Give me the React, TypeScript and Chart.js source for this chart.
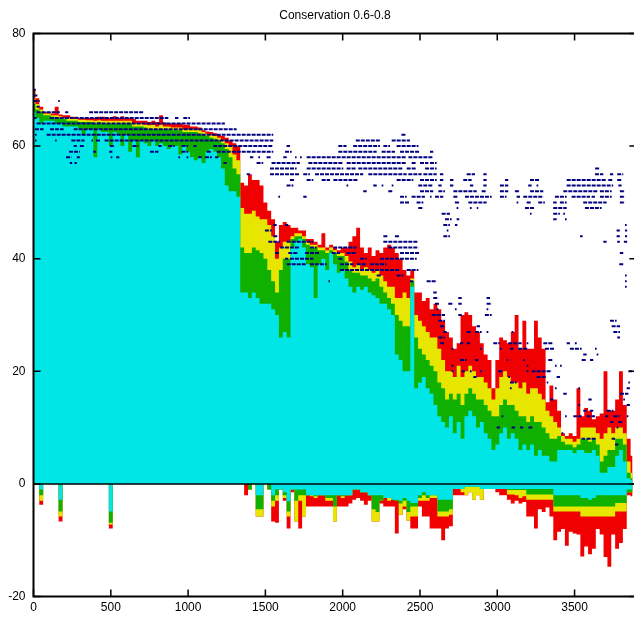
import { useEffect, useRef } from "react";
import { Chart, registerables } from "chart.js";
Chart.register(...registerables);

const TITLE = "Conservation 0.6-0.8";
const FONT = "'Liberation Sans', Arial, sans-serif";

const xTickValues = [0, 500, 1000, 1500, 2000, 2500, 3000, 3500];
const yTickValues = [-20, 0, 20, 40, 60, 80];

const xs = [
  0, 25, 50, 75, 100, 125, 150, 175, 200, 225,
  250, 275, 300, 325, 350, 375, 400, 425, 450, 475,
  500, 525, 550, 575, 600, 625, 650, 675, 700, 725,
  750, 775, 800, 825, 850, 875, 900, 925, 950, 975,
  1000, 1025, 1050, 1075, 1100, 1125, 1150, 1175, 1200, 1225,
  1250, 1275, 1300, 1325, 1350, 1375, 1400, 1425, 1450, 1475,
  1500, 1525, 1550, 1575, 1600, 1625, 1650, 1675, 1700, 1725,
  1750, 1775, 1800, 1825, 1850, 1875, 1900, 1925, 1950, 1975,
  2000, 2025, 2050, 2075, 2100, 2125, 2150, 2175, 2200, 2225,
  2250, 2275, 2300, 2325, 2350, 2375, 2400, 2425, 2450, 2475,
  2500, 2525, 2550, 2575, 2600, 2625, 2650, 2675, 2700, 2725,
  2750, 2775, 2800, 2825, 2850, 2875, 2900, 2925, 2950, 2975,
  3000, 3025, 3050, 3075, 3100, 3125, 3150, 3175, 3200, 3225,
  3250, 3275, 3300, 3325, 3350, 3375, 3400, 3425, 3450, 3475,
  3500, 3525, 3550, 3575, 3600, 3625, 3650, 3675, 3700, 3725,
  3750, 3775, 3800, 3825, 3850, 3875,
];

// upper edge of each band (positive side)
const cyanTop = [
  66, 65, 64, 64.5, 64.5, 64.5, 64, 64, 63.5, 63.5,
  63.5, 63.5, 63, 62, 63, 63, 58, 63, 62.5, 62.5,
  60, 62.5, 62, 60, 62, 59, 61, 58, 61, 60.5,
  60, 61, 60, 60.5, 60, 59.5, 60, 60, 58.5, 60,
  59, 58, 57.5, 58, 57, 59, 59.5, 59, 58, 56,
  53, 52, 52, 51, 34, 34, 33, 34, 33, 32,
  32, 32, 31, 30, 26, 27, 26, 42, 43, 43.5,
  42, 39, 38.5, 33, 39, 40, 38, 41, 39, 37.5,
  38, 36.5, 35, 34, 35, 34.5, 35, 34, 33.5, 33,
  32, 32, 31, 30, 23, 22, 20, 20, 35, 17,
  18, 19, 17, 16, 14, 12, 11, 10, 12, 9,
  11, 8, 12, 13, 12, 10, 11, 9, 8, 6,
  7, 9, 10, 8, 9, 8, 6, 7, 6, 7,
  5, 6, 5, 5, 4, 4, 6, 6, 6, 6,
  5.5, 6, 6, 5.5, 5.5, 6, 5, 2, 2, 3,
  3, 5, 6, 4, 1, 0.7,
];
const greenTop = [
  67.5, 66.5, 66, 65.5, 65.5, 65.2, 65, 65, 64.8, 64.5,
  64.5, 64.5, 64.3, 64.3, 64.3, 64.3, 64, 64.3, 64, 64,
  64, 64, 64, 64, 64, 64, 63.5, 63.5, 63.5, 63.3,
  63, 63, 63, 63, 63, 63, 62.8, 62.8, 62.8, 62.5,
  62.5, 62.5, 62.5, 62.3, 62, 61.8, 61.5, 61.3, 61, 60.5,
  59.5, 58, 56, 55, 42, 41, 41, 42, 41.5, 41,
  40, 38, 36, 34, 38, 40, 40, 43.5, 44, 44,
  43.5, 42.5, 42, 42, 41.5, 41.5, 41, 41.5, 41, 40.5,
  40.5, 39.5, 38, 37.5, 37.5, 37, 37, 36.5, 36, 36.5,
  35, 34, 33, 32, 30, 29, 28, 28, 36, 26,
  24, 23, 22, 21, 20, 18, 17, 15, 16, 15,
  16, 14, 16, 17, 16, 15, 15, 14, 13, 12,
  12, 14, 15, 14, 14, 13, 12, 12, 11, 12,
  11, 11, 10, 9, 8, 8, 8.5, 7.5, 7, 7,
  6.5, 7, 8, 8, 7.5, 8, 7, 4, 5, 6,
  6, 8, 8, 7, 2, 1,
];
const yellowTop = [
  68.5, 67.5, 66.5, 65.8, 65.8, 65.5, 65.5, 65.3, 65, 65,
  64.8, 64.8, 64.7, 64.7, 64.6, 64.6, 64.5, 64.6, 64.5, 64.5,
  64.5, 64.5, 64.5, 64.5, 64.5, 64.5, 64, 64, 64, 63.8,
  63.7, 63.8, 63.5, 63.8, 63.5, 63.5, 63.3, 63.3, 63.3, 63,
  63, 63, 63, 62.8, 62.5, 62.2, 62, 61.8, 61.5, 61,
  60.5, 60, 58.5, 57.5, 49, 48, 48, 48.5, 47.5, 47,
  47, 46, 44, 40, 42, 43, 43, 44, 44.5, 44.5,
  44, 43, 42.5, 42.5, 42, 42, 41.5, 42, 41.5, 41,
  41, 40.5, 39.5, 38.5, 39, 38, 38.5, 38, 37.5, 38,
  37, 36, 35, 35, 33, 33, 34, 33, 36.5, 30,
  29, 28, 27, 26, 26, 24, 22, 20, 20, 19,
  21, 19, 20, 21, 20, 19, 19, 18, 17, 15,
  17, 19, 20, 19, 18, 18, 17, 18, 16, 17,
  17, 16, 15, 13, 12, 11, 10, 8.5, 8, 8,
  7.5, 8, 10, 10, 10, 10, 9, 8, 9, 10,
  9, 10, 10, 9, 4, 2,
];
const redTop = [
  70, 68.5, 67, 66, 66, 65.8, 67, 65.6, 65.5, 65.5,
  65.2, 65.2, 65, 65, 65, 65, 65, 65.2, 65.2, 65,
  65, 65.3, 65, 65.3, 65, 65, 64.8, 64.5, 64.5, 64.5,
  64.3, 64.5, 64.3, 65.5, 64.2, 64, 64, 64, 64, 63.8,
  63.8, 63.5, 63.5, 63.3, 62.8, 62.6, 62.5, 62.3, 62, 61.8,
  61.5, 61, 60.5, 60, 53.5, 53, 55, 54, 54, 53,
  50, 48.5, 47, 43, 46, 46.5, 46, 45.5, 45.5, 45,
  45, 43.5, 43.5, 43, 42.5, 44.5, 42, 42.5, 42, 41.5,
  42, 42, 43, 44, 45.5, 42, 41, 42, 40.5, 41.5,
  41, 42, 42.5, 42, 41, 40, 38, 37, 38, 34,
  34, 32.5, 33, 31, 32, 31, 29, 27, 26, 24,
  25, 30, 30.5, 30, 28, 27, 25, 23, 22, 17,
  22, 26, 25.5, 25, 27, 30, 24, 29, 24, 24,
  29, 26, 24, 14.5, 17.5, 15, 13, 9, 8.5, 9,
  8.5, 17, 12, 13.5, 13, 11.5, 12, 12.5, 20, 13,
  13, 15, 20, 14, 8, 5,
];

// lower edge of each band (negative side)
const cyanBot = [
  0, 0, -1, 0, 0, 0, 0, -2.8, 0, 0,
  0, 0, 0, 0, 0, 0, 0, 0, 0, 0,
  -4.9, 0, 0, 0, 0, 0, 0, 0, 0, 0,
  0, 0, 0, 0, 0, 0, 0, 0, 0, 0,
  0, 0, 0, 0, 0, 0, 0, 0, 0, 0,
  0, 0, 0, 0, 0, 0, 0, 0, -2, -2,
  0, 0, -2, -1, -1, -1.5, -3.1, -1, -1, -1,
  -1, -2, -2, -2, -2, -2, -2, -2, -2, -2,
  -2, -2, -2, -1, -1, -1.5, -1.5, -2, -2, -2,
  -2, -2.5, -2.5, -2.8, -2.8, -3, -2.5, -3, -3.4, -3.4,
  -2, -1.5, -2, -2, -2, -2.8, -2.8, -2.8, -2.8, -0.9,
  -0.9, -0.9, -0.5, -0.5, -0.5, -0.5, -0.9, -0.9, -0.9, -0.9,
  -0.9, -0.9, -0.9, -0.9, -0.9, -0.9, -0.9, -0.9, -0.9, -0.9,
  -0.9, -0.9, -0.9, -0.9, -0.9, -2, -2, -2, -2, -2,
  -2, -2, -2.5, -2.5, -2.8, -2.5, -2, -2, -2, -2,
  -2, -2, -2, -2, -1, -1,
];
const greenBot = [
  0, 0, -2, 0, 0, 0, 0, -4.9, 0, 0,
  0, 0, 0, 0, 0, 0, 0, 0, 0, 0,
  -6.9, 0, 0, 0, 0, 0, 0, 0, 0, 0,
  0, 0, 0, 0, 0, 0, 0, 0, 0, 0,
  0, 0, 0, 0, 0, 0, 0, 0, 0, 0,
  0, 0, 0, 0, 0, 0, -1, 0, -4.5, -4.5,
  0, -1, -3, -2, -1, -2, -4.9, -1, -3, -2,
  -2, -2, -2, -2.2, -2, -2, -2.5, -2.5, -4, -2,
  -2.2, -2, -2, -1, -1, -1.5, -1.5, -2, -4.5, -5,
  -3, -2.5, -2.5, -2.8, -3, -3.5, -3, -5, -4, -4,
  -2.5, -2, -2.5, -2, -2, -4.9, -4.9, -4.9, -4.5, -0.9,
  -0.9, -0.9, -0.5, -0.5, -0.5, -0.5, -0.9, -0.9, -0.9, -0.9,
  -0.9, -0.9, -0.9, -1.1, -1.1, -1.1, -1.1, -1.1, -1.9, -1.9,
  -1.9, -1.9, -1.9, -1.9, -1.9, -4, -4, -4, -4, -4,
  -4, -4, -4, -4, -4, -4, -4, -4, -4, -4,
  -4, -3.4, -3.4, -3.4, -1.5, -1.5,
];
const yellowBot = [
  0, 0, -3, 0, 0, 0, 0, -5.8, 0, 0,
  0, 0, 0, 0, 0, 0, 0, 0, 0, 0,
  -7.2, 0, 0, 0, 0, 0, 0, 0, 0, 0,
  0, 0, 0, 0, 0, 0, 0, 0, 0, 0,
  0, 0, 0, 0, 0, 0, 0, 0, 0, 0,
  0, 0, 0, 0, 0, 0, -1, 0, -5.8, -5.8,
  0, -1, -4, -3, -1, -2.5, -5.8, -1, -6.7, -3,
  -5.8, -2, -2.2, -2.5, -2, -2, -3, -3, -6.7, -2,
  -2.5, -2, -2, -1, -1, -1.5, -1.5, -2, -6.7, -6.7,
  -3, -2.5, -3, -2.8, -3, -5.5, -4, -6.5, -5.8, -5.8,
  -3, -3, -3, -2.5, -2.5, -5.8, -5.8, -5.8, -5.5, -0.9,
  -0.9, -1.5, -2, -1.5, -2.8, -2, -2.8, -0.9, -0.9, -0.9,
  -0.9, -0.9, -0.9, -1.9, -1.9, -2, -2.5, -2.2, -2.8, -2.8,
  -2.8, -2.8, -2.8, -2.8, -2.8, -4.9, -4.9, -4.9, -4.9, -4.9,
  -4.9, -4.9, -5.8, -5.8, -5.8, -5.8, -5.8, -5.8, -5.8, -5.8,
  -5.8, -4.9, -4.9, -4.9, -1.5, -1.5,
];
const redBot = [
  0, 0, -3.7, 0, 0, 0, 0, -6.7, 0, 0,
  0, 0, 0, 0, 0, 0, 0, 0, 0, 0,
  -7.9, 0, 0, 0, 0, 0, 0, 0, 0, 0,
  0, 0, 0, 0, 0, 0, 0, 0, 0, 0,
  0, 0, 0, 0, 0, 0, 0, 0, 0, 0,
  0, 0, 0, 0, 0, -2, -1, 0, -5.8, -5.8,
  0, -1, -6.7, -6.9, -1, -3, -7.9, -1.5, -6.7, -7.9,
  -5.8, -4, -4, -4, -4, -4, -4, -4, -6.7, -4,
  -4, -4, -3.5, -2.8, -2.5, -3, -3.7, -3, -6.7, -6.7,
  -3.5, -4, -4, -4, -8.8, -5.5, -4.5, -6.5, -7.9, -7.9,
  -4, -5.8, -5.8, -7.9, -7.9, -7.9, -10, -7.9, -7.5, -2,
  -2, -2, -2, -1.5, -2.8, -2, -2.8, -0.9, -0.9, -0.9,
  -1.5, -2, -2, -2.8, -3.5, -3, -3.5, -3.2, -5.8, -5.8,
  -7.9, -4.5, -5, -4.2, -5.8, -10, -8.5, -8, -11, -8.5,
  -8.8, -9, -12.9, -11.1, -12.5, -11.5, -8, -9, -13, -14.7,
  -9, -11.5, -10.5, -8, -2, -2.2,
];

// navy point rows: y level and runs of x (start, end, start, end, ...)
const dotY = [
  70, 69, 68, 67, 66, 65, 64, 63, 62, 61, 60, 59, 58, 57, 56, 55, 54, 53, 52, 51,
  50, 49, 48, 47, 46, 45, 44, 43, 42, 41, 40, 39, 38, 37, 36, 35, 34, 33, 32, 31,
  30, 29, 28, 27, 26, 25, 24, 23, 22, 21, 20, 19, 18, 17, 16, 15, 14, 13, 12, 11,
  10, 9, 8, 7,
];
const dotRuns = [
  [0, 15],
  [0, 25],
  [0, 40, 160, 170],
  [20, 40],
  [20, 170, 205, 225, 360, 710],
  [0, 20, 105, 872, 915, 937, 969, 1012],
  [20, 1238],
  [10, 65, 107, 195, 260, 1314],
  [10, 20, 85, 1551, 2380, 2410],
  [10, 20, 140, 150, 245, 330, 375, 385, 405, 430, 460, 1551, 2085, 2241, 2317, 2435],
  [260, 280, 300, 330, 495, 520, 640, 679, 808, 829, 872, 915, 958, 1001, 1034, 1055, 1163, 1551, 1637, 1659, 1972, 2025, 2068, 2241, 2263, 2306, 2349, 2490],
  [230, 300, 385, 405, 490, 510, 754, 808, 958, 1001, 1120, 1153, 1185, 1551, 1627, 1670, 1972, 2220, 2252, 2338, 2371, 2500, 2565, 2586],
  [210, 245, 280, 300, 500, 510, 535, 555, 937, 948, 991, 1001, 1066, 1088, 1109, 1153, 1174, 1196, 1400, 1422, 1454, 1465, 1508, 1540, 1616, 1638, 1692, 1702, 1724, 1735, 1767, 2414, 2425, 2586],
  [235, 250, 265, 280, 1228, 1250, 1443, 1486, 1540, 1723, 1778, 2004, 2026, 2414, 2446, 2478, 2500, 2554, 2565, 2608],
  [1530, 1702, 1767, 2004, 2025, 2090, 2101, 2392, 2414, 2478, 2533, 2608, 3633, 3664],
  [1379, 1400, 1530, 1723, 1745, 1788, 1821, 2133, 2166, 2414, 2425, 2511, 2522, 2608, 2629, 2651, 2802, 2856, 2910, 2931, 3632, 3686, 3729, 3750, 3776, 3815],
  [1659, 1692, 1767, 1810, 1864, 1918, 1940, 2101, 2349, 2457, 2500, 2608, 2629, 2651, 2694, 2716, 2780, 2834, 2910, 2931, 3050, 3071, 3212, 3276, 3449, 3707, 3718, 3750, 3776, 3804],
  [1637, 1681, 2025, 2036, 2198, 2220, 2252, 2263, 2317, 2328, 2489, 2586, 2619, 2640, 2694, 2716, 2823, 2845, 2910, 2931, 3017, 3071, 3200, 3222, 3254, 3265, 3449, 3750, 3783, 3804],
  [2133, 2155, 2295, 2327, 2500, 2586, 2619, 2662, 2716, 2867, 2899, 2931, 3017, 3071, 3114, 3147, 3212, 3298, 3427, 3653, 3664, 3740, 3793, 3826],
  [1584, 1595, 1745, 1767, 2371, 2414, 2446, 2532, 2565, 2575, 2597, 2651, 2716, 2748, 2791, 2964, 3017, 3060, 3125, 3147, 3168, 3298, 3373, 3449, 3481, 3600, 3610, 3632, 3664, 3740, 3793, 3826],
  [2371, 2435, 2478, 2522, 2726, 2759, 2813, 2931, 3125, 3136, 3190, 3222, 3265, 3308, 3362, 3384, 3405, 3449, 3556, 3707, 3793, 3826],
  [2489, 2522, 2737, 2748, 2823, 2834, 2867, 2877, 3179, 3244, 3362, 3449, 3567, 3675],
  [2640, 2694, 3212, 3222, 3362, 3405, 3427, 3438],
  [2662, 2705, 2737, 2754, 3362, 3384, 3438, 3449],
  [1551, 1573, 1627, 1648, 2651, 2694, 2726, 2742, 3826, 3837],
  [1497, 1540, 2673, 2684, 3772, 3793, 3826, 3840],
  [1551, 1584, 2263, 2295, 2338, 2371, 2651, 2694, 3535, 3552, 3772, 3793, 3826, 3840],
  [1519, 1594, 1638, 1810, 2263, 2490, 3686, 3707, 3776, 3793, 3819, 3840],
  [1594, 1724, 1788, 1832, 1939, 2090, 2295, 2490],
  [1562, 1594, 1648, 1713, 1756, 1853, 1929, 1983, 2026, 2090, 2371, 2500, 3793, 3815],
  [1627, 1648, 1659, 1810, 1972, 2004, 2112, 2155, 2241, 2479],
  [1638, 1767, 1788, 1896, 1983, 2069, 2090, 2155, 2177, 2284, 3789, 3815],
  [1983, 2371, 2414, 2490],
  [2220, 2252, 2349, 2392, 3826, 3837],
  [1908, 1918, 2435, 2457, 2543, 2608, 3826, 3837],
  [3826, 3837],
  [2586, 2608],
  [2586, 2619, 2748, 2770, 2931, 2953],
  [2597, 2629, 2683, 2716, 2748, 2770, 2931, 2964],
  [2608, 2619, 2726, 2737, 2931, 2942],
  [2576, 2662, 2748, 2770, 2920, 2964],
  [2619, 2662, 3729, 3772],
  [2629, 2662, 2866, 2888, 3740, 3794],
  [2651, 2673, 2802, 2834, 2856, 2899, 2931, 2942, 3093, 3104, 3751, 3794],
  [2619, 2662, 3776, 3794],
  [2629, 2662, 2759, 2780, 2802, 2823, 2974, 3017, 3071, 3158, 3190, 3201, 3298, 3362, 3449, 3470, 3502, 3514],
  [2705, 2716, 2888, 2899, 3017, 3028, 3082, 3104, 3136, 3201, 3309, 3373, 3470, 3546, 3632, 3643],
  [3556, 3578, 3643, 3654],
  [2759, 2802, 2856, 2877, 3061, 3071, 3168, 3179, 3330, 3362, 3546, 3578, 3600, 3621],
  [2705, 2716, 3190, 3201, 3373, 3384, 3406, 3417],
  [2705, 2716, 2770, 2791, 2823, 2834, 2888, 2899, 3006, 3039, 3190, 3201, 3222, 3352, 3848, 3880],
  [2845, 2866, 3071, 3082, 3255, 3320, 3384, 3406],
  [3082, 3125, 3320, 3330, 3848, 3858],
  [3082, 3093, 3373, 3384, 3524, 3535, 3837, 3858],
  [3427, 3449, 3794, 3848],
  [3341, 3362, 3589, 3611, 3815, 3826],
  [3524, 3535, 3837, 3858],
  [3556, 3578, 3600, 3621, 3708, 3751],
  [3028, 3039, 3438, 3449, 3492, 3546, 3578, 3632, 3697, 3718, 3751, 3794, 3837, 3848],
  [3730, 3751, 3783, 3815],
  [2996, 3017, 3093, 3115, 3147, 3168, 3201, 3233, 3772, 3783],
  [3416, 3427],
  [3546, 3567, 3578, 3643, 3740, 3762],
  [3762, 3783],
];

const CYAN = "#00e5e5";
const GREEN = "#10b000";
const YELLOW = "#e6e600";
const RED = "#f00000";
const NAVY = "#000080";

function band(values: number[], color: string, order: number) {
  return {
    type: "line" as const,
    data: xs.map((x, i) => ({ x, y: values[i] })),
    fill: "origin",
    backgroundColor: color,
    borderColor: "rgba(0,0,0,0)",
    borderWidth: 0,
    pointRadius: 0,
    stepped: "middle" as const,
    order,
  };
}

const framePlugin = {
  id: "frame",
  afterDatasetsDraw(chart: any) {
    const { ctx, chartArea: a, scales } = chart;
    ctx.save();
    ctx.strokeStyle = "#000";
    const y0 = scales.y.getPixelForValue(0);
    ctx.lineWidth = 1.5;
    ctx.beginPath();
    ctx.moveTo(a.left, y0);
    ctx.lineTo(a.right, y0);
    ctx.stroke();
    const L = 7;
    ctx.lineWidth = 1.5;
    ctx.beginPath();
    for (const t of scales.x.ticks) {
      const px = scales.x.getPixelForValue(t.value);
      ctx.moveTo(px, a.bottom);
      ctx.lineTo(px, a.bottom - L);
      ctx.moveTo(px, a.top);
      ctx.lineTo(px, a.top + L);
    }
    for (const t of scales.y.ticks) {
      const py = scales.y.getPixelForValue(t.value);
      ctx.moveTo(a.left, py);
      ctx.lineTo(a.left + L, py);
      ctx.moveTo(a.right, py);
      ctx.lineTo(a.right - L, py);
    }
    ctx.stroke();
    ctx.lineWidth = 2;
    ctx.strokeRect(a.left, a.top, a.right - a.left, a.bottom - a.top);
    ctx.restore();
  },
};

export default function App() {
  const ref = useRef<HTMLCanvasElement>(null);
  useEffect(() => {
    document.documentElement.style.overflow = "hidden";
    const dotData: { x: number; y: number | null }[] = [];
    dotY.forEach((y, i) => {
      const r = dotRuns[i];
      for (let k = 0; k < r.length; k += 2) {
        dotData.push({ x: r[k], y }, { x: r[k + 1], y }, { x: r[k + 1], y: null });
      }
    });
    const tickFont = { family: FONT, size: 12 };
    const chart = new Chart(ref.current!, {
      type: "line",
      data: {
        datasets: [
          {
            type: "line",
            data: dotData as any,
            fill: false,
            borderColor: NAVY,
            borderWidth: 2,
            borderDash: [4, 1],
            borderCapStyle: "butt",
            pointRadius: 0,
            spanGaps: false,
            order: 0,
          } as any,
          band(cyanTop, CYAN, 1),
          band(greenTop, GREEN, 2),
          band(yellowTop, YELLOW, 3),
          band(redTop, RED, 4),
          band(cyanBot, CYAN, 1),
          band(greenBot, GREEN, 2),
          band(yellowBot, YELLOW, 3),
          band(redBot, RED, 4),
        ] as any,
      },
      options: {
        responsive: false,
        animation: false,
        devicePixelRatio: 1,
        events: [],
        layout: { padding: { left: 0, right: 3.6, top: 0, bottom: 0 } },
        plugins: {
          legend: { display: false },
          tooltip: { enabled: false },
          title: {
            display: true,
            text: TITLE,
            color: "#000",
            fullSize: false,
            font: { family: FONT, size: 12, weight: "normal" },
            padding: { top: 8, bottom: 11.1 },
          },
        },
        scales: {
          x: {
            type: "linear",
            min: 0,
            max: 3900,
            grid: { display: false, drawTicks: false },
            border: { display: false },
            afterBuildTicks: (s: any) => {
              s.ticks = xTickValues.map((v) => ({ value: v }));
            },
            ticks: {
              autoSkip: false,
              maxRotation: 0,
              minRotation: 0,
              padding: 4,
              color: "#000",
              font: tickFont,
              callback: (v: any) => String(v),
            },
            afterFit: (s: any) => {
              s.height = 20.5;
              s.paddingLeft = 0;
              s.paddingRight = 0;
            },
          },
          y: {
            type: "linear",
            min: -20,
            max: 80,
            grid: { display: false, drawTicks: false },
            border: { display: false },
            afterBuildTicks: (s: any) => {
              s.ticks = yTickValues.map((v) => ({ value: v }));
            },
            ticks: {
              padding: 8,
              color: "#000",
              font: tickFont,
              callback: (v: any) => String(v),
            },
            afterFit: (s: any) => {
              s.width = 33.5;
              s.paddingTop = 0;
              s.paddingBottom = 0;
            },
          },
        },
      } as any,
      plugins: [framePlugin],
    });
    return () => chart.destroy();
  }, []);
  return (
    <div style={{ position: "fixed", left: 0, top: 0, width: 640, height: 617, background: "#fff" }}>
      <canvas ref={ref} width={640} height={617} style={{ display: "block", width: 640, height: 617 }} />
    </div>
  );
}
